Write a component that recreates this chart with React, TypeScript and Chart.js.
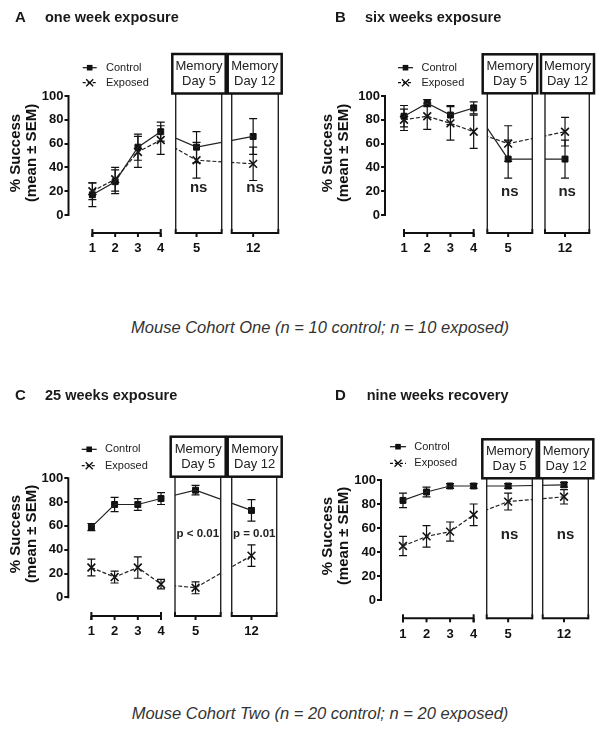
import React, { useEffect, useRef } from 'react';
import { Chart, registerables } from 'chart.js';

Chart.register(...registerables);

// ---------- data ----------
const dayLabels = ['1', '2', '3', '4', '5', '12'];
const yTickValues = [0, 20, 40, 60, 80, 100];
const seriesNames = ['Control', 'Exposed'];
const memoryLabels = [['Memory', 'Day 5'], ['Memory', 'Day 12']];
const yTitleLines = ['% Success', '(mean \u00b1 SEM)'];

// Panel A: one week exposure
const aControl = [17, 28, 57, 70, 57, 66];
const aControlSem = [10, 10, 11, 8, 13, 15];
const aExposed = [20, 30, 53, 63, 46, 43];
const aExposedSem = [7, 10, 13, 12, 15, 14];
const aNotes = ['ns', 'ns'];

// Panel B: six weeks exposure
const bControl = [83, 94, 84, 90, 47, 47];
const bControlSem = [9, 3, 8, 5, 16, 16];
const bExposed = [80, 83, 77, 70, 60, 70];
const bExposedSem = [9, 11, 14, 14, 15, 12];
const bNotes = ['ns', 'ns'];

// Panel C: 25 weeks exposure
const cControl = [59, 78, 78, 83, 90, 73];
const cControlSem = [3, 6, 5, 5, 4, 9];
const cExposed = [25, 17, 25, 11, 8, 35];
const cExposedSem = [7, 5, 9, 4, 5, 9];
const cNotes = ['p < 0.01', 'p = 0.01'];

// Panel D: nine weeks recovery
const dControl = [83, 90, 95, 95, 95, 96];
const dControlSem = [6, 4, 2, 2, 2, 2];
const dExposed = [45, 53, 57, 71, 82, 86];
const dExposedSem = [8, 9, 8, 9, 7, 6];
const dNotes = ['ns', 'ns'];

// ---------- layout ----------
const FONT = 'Arial, "Liberation Sans", sans-serif';
const CW = 300;
const CH = 290;
const Y_AXIS_W = 50;
const X_AXIS_H = 30;
const RIGHT_PX = 296;

type Geom = {
  left: number; top: number;
  yAxisX: number; yTop: number; yZero: number; xAxisY: number;
  tick1: number; tick4: number; day5: number; day12: number;
  box1: number[]; box2: number[]; lab1: number[]; lab2: number[];
  labTop: number; labBot: number;
  legX0: number; legX1: number; legText: number; legY: number[];
  titleX: number[]; titleCy: number; noteY: number; noteFont: string;
};

const geomA: Geom = {
  left: 0, top: 0, yAxisX: 68.5, yTop: 96, yZero: 215, xAxisY: 233,
  tick1: 92.7, tick4: 162, day5: 198.3, day12: 255.7,
  box1: [175.7, 221.7], box2: [231.7, 278.3], lab1: [172.3, 225.7], lab2: [227.7, 281.7],
  labTop: 54, labBot: 93.5,
  legX0: 82.7, legX1: 96.7, legText: 106, legY: [67.7, 82.7],
  titleX: [16, 32], titleCy: 153, noteY: 188, noteFont: 'bold 15px ' + FONT,
};
const geomB: Geom = {
  left: 300, top: 0, yAxisX: 85, yTop: 96, yZero: 215, xAxisY: 233,
  tick1: 104.3, tick4: 175, day5: 210, day12: 267.7,
  box1: [187.3, 232.3], box2: [245, 289.3], lab1: [182.7, 237.3], lab2: [241, 294],
  labTop: 54.3, labBot: 93.3,
  legX0: 98, legX1: 113, legText: 121.5, legY: [67.7, 82.7],
  titleX: [27.5, 44], titleCy: 153, noteY: 191.5, noteFont: 'bold 15px ' + FONT,
};
const geomC: Geom = {
  left: 0, top: 380, yAxisX: 68.3, yTop: 98.3, yZero: 217.3, xAxisY: 236,
  tick1: 91.7, tick4: 162.3, day5: 197.3, day12: 254,
  box1: [175, 220.7], box2: [231.7, 276.7], lab1: [170.7, 225.7], lab2: [227.7, 281.7],
  labTop: 56.7, labBot: 96.7,
  legX0: 81.7, legX1: 96.7, legText: 105, legY: [69.3, 85.7],
  titleX: [16, 32], titleCy: 154, noteY: 153.5, noteFont: 'bold 11.5px ' + FONT,
};
const geomD: Geom = {
  left: 300, top: 380, yAxisX: 81, yTop: 100, yZero: 220, xAxisY: 238.3,
  tick1: 103.3, tick4: 175, day5: 210, day12: 266.7,
  box1: [186.7, 232.3], box2: [242.7, 288.3], lab1: [182.3, 236.7], lab2: [239, 293.3],
  labTop: 59.3, labBot: 98.3,
  legX0: 90, legX1: 106, legText: 114.3, legY: [66.7, 83.3],
  titleX: [27.5, 44], titleCy: 156, noteY: 155, noteFont: 'bold 15px ' + FONT,
};

type Panel = {
  letter: string; title: string; titleLeft: number; textLeft: number; titleTop: number;
  control: number[]; controlSem: number[]; exposed: number[]; exposedSem: number[];
  notes: string[]; g: Geom;
};

const panels: Panel[] = [
  { letter: 'A', title: 'one week exposure', titleLeft: 15, textLeft: 45, titleTop: 8,
    control: aControl, controlSem: aControlSem, exposed: aExposed, exposedSem: aExposedSem, notes: aNotes, g: geomA },
  { letter: 'B', title: 'six weeks exposure', titleLeft: 335, textLeft: 365, titleTop: 8,
    control: bControl, controlSem: bControlSem, exposed: bExposed, exposedSem: bExposedSem, notes: bNotes, g: geomB },
  { letter: 'C', title: '25 weeks exposure', titleLeft: 15, textLeft: 45, titleTop: 386,
    control: cControl, controlSem: cControlSem, exposed: cExposed, exposedSem: cExposedSem, notes: cNotes, g: geomC },
  { letter: 'D', title: 'nine weeks recovery', titleLeft: 335, textLeft: 366.7, titleTop: 386,
    control: dControl, controlSem: dControlSem, exposed: dExposed, exposedSem: dExposedSem, notes: dNotes, g: geomD },
];

const INK = '#111';

function makePlugin(p: Panel, slots: number[]) {
  const g = p.g;
  return {
    id: 'decor' + p.letter,
    beforeDatasetDraw(chart: any, args: any) {
      if (args.index > 1) return;
      const ctx = chart.ctx;
      const xs = chart.scales.x;
      const h = chart.height;
      ctx.save();
      ctx.beginPath();
      ctx.rect(chart.chartArea.left, 0, xs.getPixelForValue(4) - chart.chartArea.left, h);
      ctx.rect(g.box1[0], 0, g.box1[1] - g.box1[0], h);
      ctx.rect(g.box2[0], 0, g.box2[1] - g.box2[0], h);
      ctx.clip();
    },
    afterDatasetDraw(chart: any, args: any) {
      if (args.index > 1) return;
      chart.ctx.restore();
    },
    beforeDatasetsDraw(chart: any) {
      const ctx = chart.ctx;
      const xs = chart.scales.x;
      const ys = chart.scales.y;
      ctx.save();
      ctx.strokeStyle = INK;
      ctx.fillStyle = INK;
      ctx.lineCap = 'butt';

      // y axis line
      ctx.lineWidth = 2;
      ctx.beginPath();
      ctx.moveTo(g.yAxisX, ys.getPixelForValue(100) - 1);
      ctx.lineTo(g.yAxisX, ys.getPixelForValue(0) + 1);
      ctx.stroke();

      // y title
      ctx.font = 'bold 15px ' + FONT;
      ctx.textAlign = 'center';
      ctx.textBaseline = 'middle';
      yTitleLines.forEach((t, i) => {
        ctx.save();
        ctx.translate(g.titleX[i], g.titleCy);
        ctx.rotate(-Math.PI / 2);
        ctx.fillText(t, 0, 0);
        ctx.restore();
      });

      // x axis segments
      const ay = g.xAxisY;
      const seg = (x0: number, x1: number, ticks: number[], capUp: boolean) => {
        ctx.lineWidth = 2;
        ctx.beginPath();
        ctx.moveTo(x0, ay);
        ctx.lineTo(x1, ay);
        ctx.stroke();
        ticks.forEach((tx) => {
          ctx.beginPath();
          ctx.moveTo(tx, ay);
          ctx.lineTo(tx, ay + 4);
          ctx.stroke();
        });
        [x0, x1].forEach((ex) => {
          ctx.beginPath();
          ctx.moveTo(ex, ay - 4);
          ctx.lineTo(ex, capUp ? ay + 1 : ay + 4);
          ctx.stroke();
        });
      };
      seg(xs.getPixelForValue(slots[0]), xs.getPixelForValue(slots[3]), slots.slice(0, 4).map((v) => xs.getPixelForValue(v)), false);
      seg(g.box1[0], g.box1[1], [xs.getPixelForValue(slots[4])], true);
      seg(g.box2[0], g.box2[1], [xs.getPixelForValue(slots[5])], true);

      // memory boxes (lower part)
      ctx.lineWidth = 1.4;
      ctx.strokeStyle = '#222';
      [g.box1, g.box2].forEach((b) => {
        b.forEach((bx) => {
          ctx.beginPath();
          ctx.moveTo(bx, g.labBot);
          ctx.lineTo(bx, ay - 3);
          ctx.stroke();
        });
      });

      // memory label boxes
      ctx.strokeStyle = INK;
      ctx.lineWidth = 2.5;
      [g.lab1, g.lab2].forEach((l, i) => {
        ctx.fillStyle = '#fff';
        ctx.fillRect(l[0], g.labTop, l[1] - l[0], g.labBot - g.labTop);
        ctx.strokeRect(l[0], g.labTop, l[1] - l[0], g.labBot - g.labTop);
        ctx.fillStyle = '#222';
        ctx.font = '13px ' + FONT;
        ctx.textAlign = 'center';
        ctx.textBaseline = 'middle';
        const cx = (l[0] + l[1]) / 2;
        const mid = (g.labTop + g.labBot) / 2;
        ctx.fillText(memoryLabels[i][0], cx, mid - 7);
        ctx.fillText(memoryLabels[i][1], cx, mid + 7.5);
      });

      // notes (ns / p values)
      ctx.fillStyle = '#222';
      ctx.font = g.noteFont;
      ctx.textAlign = 'center';
      ctx.textBaseline = 'middle';
      [g.box1, g.box2].forEach((b, i) => {
        ctx.fillText(p.notes[i], (b[0] + b[1]) / 2, g.noteY);
      });

      // legend
      ctx.strokeStyle = INK;
      ctx.fillStyle = INK;
      ctx.lineWidth = 1.2;
      const lx = (g.legX0 + g.legX1) / 2;
      ctx.beginPath();
      ctx.moveTo(g.legX0, g.legY[0]);
      ctx.lineTo(g.legX1, g.legY[0]);
      ctx.stroke();
      ctx.fillRect(lx - 2.8, g.legY[0] - 2.8, 5.6, 5.6);
      ctx.setLineDash([3, 2]);
      ctx.beginPath();
      ctx.moveTo(g.legX0, g.legY[1]);
      ctx.lineTo(g.legX1, g.legY[1]);
      ctx.stroke();
      ctx.setLineDash([]);
      ctx.lineWidth = 1.4;
      ctx.beginPath();
      ctx.moveTo(lx - 3.5, g.legY[1] - 3.5);
      ctx.lineTo(lx + 3.5, g.legY[1] + 3.5);
      ctx.moveTo(lx - 3.5, g.legY[1] + 3.5);
      ctx.lineTo(lx + 3.5, g.legY[1] - 3.5);
      ctx.stroke();
      ctx.fillStyle = '#222';
      ctx.font = '11px ' + FONT;
      ctx.textAlign = 'left';
      ctx.textBaseline = 'middle';
      seriesNames.forEach((n, i) => ctx.fillText(n, g.legText, g.legY[i]));

      // error bars
      ctx.strokeStyle = INK;
      ctx.lineWidth = 1.2;
      const bars = (vals: number[], sems: number[]) => {
        vals.forEach((v, i) => {
          const x = xs.getPixelForValue(slots[i]);
          const y1 = ys.getPixelForValue(v - sems[i]);
          const y2 = ys.getPixelForValue(v + sems[i]);
          ctx.beginPath();
          ctx.moveTo(x, y1);
          ctx.lineTo(x, y2);
          ctx.moveTo(x - 4, y1);
          ctx.lineTo(x + 4, y1);
          ctx.moveTo(x - 4, y2);
          ctx.lineTo(x + 4, y2);
          ctx.stroke();
        });
      };
      bars(p.control, p.controlSem);
      bars(p.exposed, p.exposedSem);
      ctx.restore();
    },
  };
}

function PanelChart({ p }: { p: Panel }) {
  const ref = useRef<HTMLCanvasElement>(null);
  useEffect(() => {
    const g = p.g;
    const unit = (g.tick4 - g.tick1) / 3;
    const toVal = (px: number) => 1 + (px - g.tick1) / unit;
    const slots = [1, 2, 3, 4, toVal(g.day5), toVal(g.day12)];
    const yMin = -((g.xAxisY - g.yZero) * 100) / (g.yZero - g.yTop);
    const pts = (vals: number[]) => vals.map((v, i) => ({ x: slots[i], y: v }));
    const chart = new Chart(ref.current as HTMLCanvasElement, {
      type: 'line',
      data: {
        datasets: [
          { label: seriesNames[0], data: pts(p.control), borderColor: '#222', borderWidth: 1.2, pointRadius: 0, clip: false as any, tension: 0 },
          { label: seriesNames[1], data: pts(p.exposed), borderColor: '#222', borderWidth: 1.2, borderDash: [4, 2], pointRadius: 0, clip: false as any, tension: 0 },
          { label: seriesNames[0], data: pts(p.control), showLine: false, pointStyle: 'rect', pointRadius: 4.2, backgroundColor: INK, borderColor: INK, borderWidth: 1, clip: false as any },
          { label: seriesNames[1], data: pts(p.exposed), showLine: false, pointStyle: 'crossRot', pointRadius: 5.5, borderColor: INK, borderWidth: 1.6, clip: false as any },
        ],
      },
      options: {
        responsive: false,
        animation: false,
        events: [],
        layout: {
          padding: {
            left: g.yAxisX - Y_AXIS_W,
            top: g.yTop,
            right: CW - RIGHT_PX,
            bottom: CH - g.xAxisY - X_AXIS_H,
          },
        },
        plugins: { legend: { display: false }, tooltip: { enabled: false } },
        scales: {
          x: {
            type: 'linear',
            min: toVal(g.yAxisX),
            max: toVal(RIGHT_PX),
            afterBuildTicks: (s: any) => { s.ticks = slots.map((v) => ({ value: v })); },
            afterFit: (s: any) => { s.height = X_AXIS_H; },
            grid: { display: false, drawTicks: false },
            border: { display: false },
            ticks: {
              autoSkip: false, maxRotation: 0, padding: 8, color: INK,
              font: { family: FONT, size: 13, weight: 'bold' },
              callback: (_v: any, i: number) => dayLabels[i],
            },
          },
          y: {
            type: 'linear',
            min: yMin,
            max: 100,
            afterBuildTicks: (s: any) => { s.ticks = yTickValues.map((v) => ({ value: v })); },
            afterFit: (s: any) => { s.width = Y_AXIS_W; },
            grid: { drawOnChartArea: false, drawTicks: true, tickLength: 4, color: INK, lineWidth: 2 },
            border: { display: false },
            ticks: { padding: 1, color: INK, font: { family: FONT, size: 13, weight: 'bold' } },
          },
        },
      } as any,
      plugins: [makePlugin(p, slots)],
    });
    return () => chart.destroy();
  }, [p]);
  return (
    <canvas
      ref={ref}
      width={CW}
      height={CH}
      style={{ position: 'absolute', left: p.g.left, top: p.g.top, width: CW, height: CH }}
    />
  );
}

const captions = [
  { text: 'Mouse Cohort One (n = 10 control; n = 10 exposed)', cy: 326.5 },
  { text: 'Mouse Cohort Two (n = 20 control; n = 20 exposed)', cy: 712.5 },
];

export default function App() {
  return (
    <div style={{ position: 'absolute', left: 0, top: 0, width: 604, height: 730, background: '#fff', overflow: 'hidden' }}>
      {panels.map((p) => (
        <PanelChart key={p.letter} p={p} />
      ))}
      {panels.map((p) => (
        <React.Fragment key={'t' + p.letter}>
          <div style={{ position: 'absolute', left: p.titleLeft, top: p.titleTop, font: `bold 15px ${FONT}`, lineHeight: '18px', color: '#1a1a1a', whiteSpace: 'nowrap' }}>{p.letter}</div>
          <div style={{ position: 'absolute', left: p.textLeft, top: p.titleTop, font: `bold 14.5px ${FONT}`, lineHeight: '18px', color: '#1a1a1a', whiteSpace: 'nowrap' }}>{p.title}</div>
        </React.Fragment>
      ))}
      {captions.map((c) => (
        <div key={c.text} style={{ position: 'absolute', left: 20, width: 600, top: c.cy - 11, textAlign: 'center', font: `italic 16.5px ${FONT}`, lineHeight: '22px', color: '#333', whiteSpace: 'nowrap' }}>{c.text}</div>
      ))}
    </div>
  );
}
